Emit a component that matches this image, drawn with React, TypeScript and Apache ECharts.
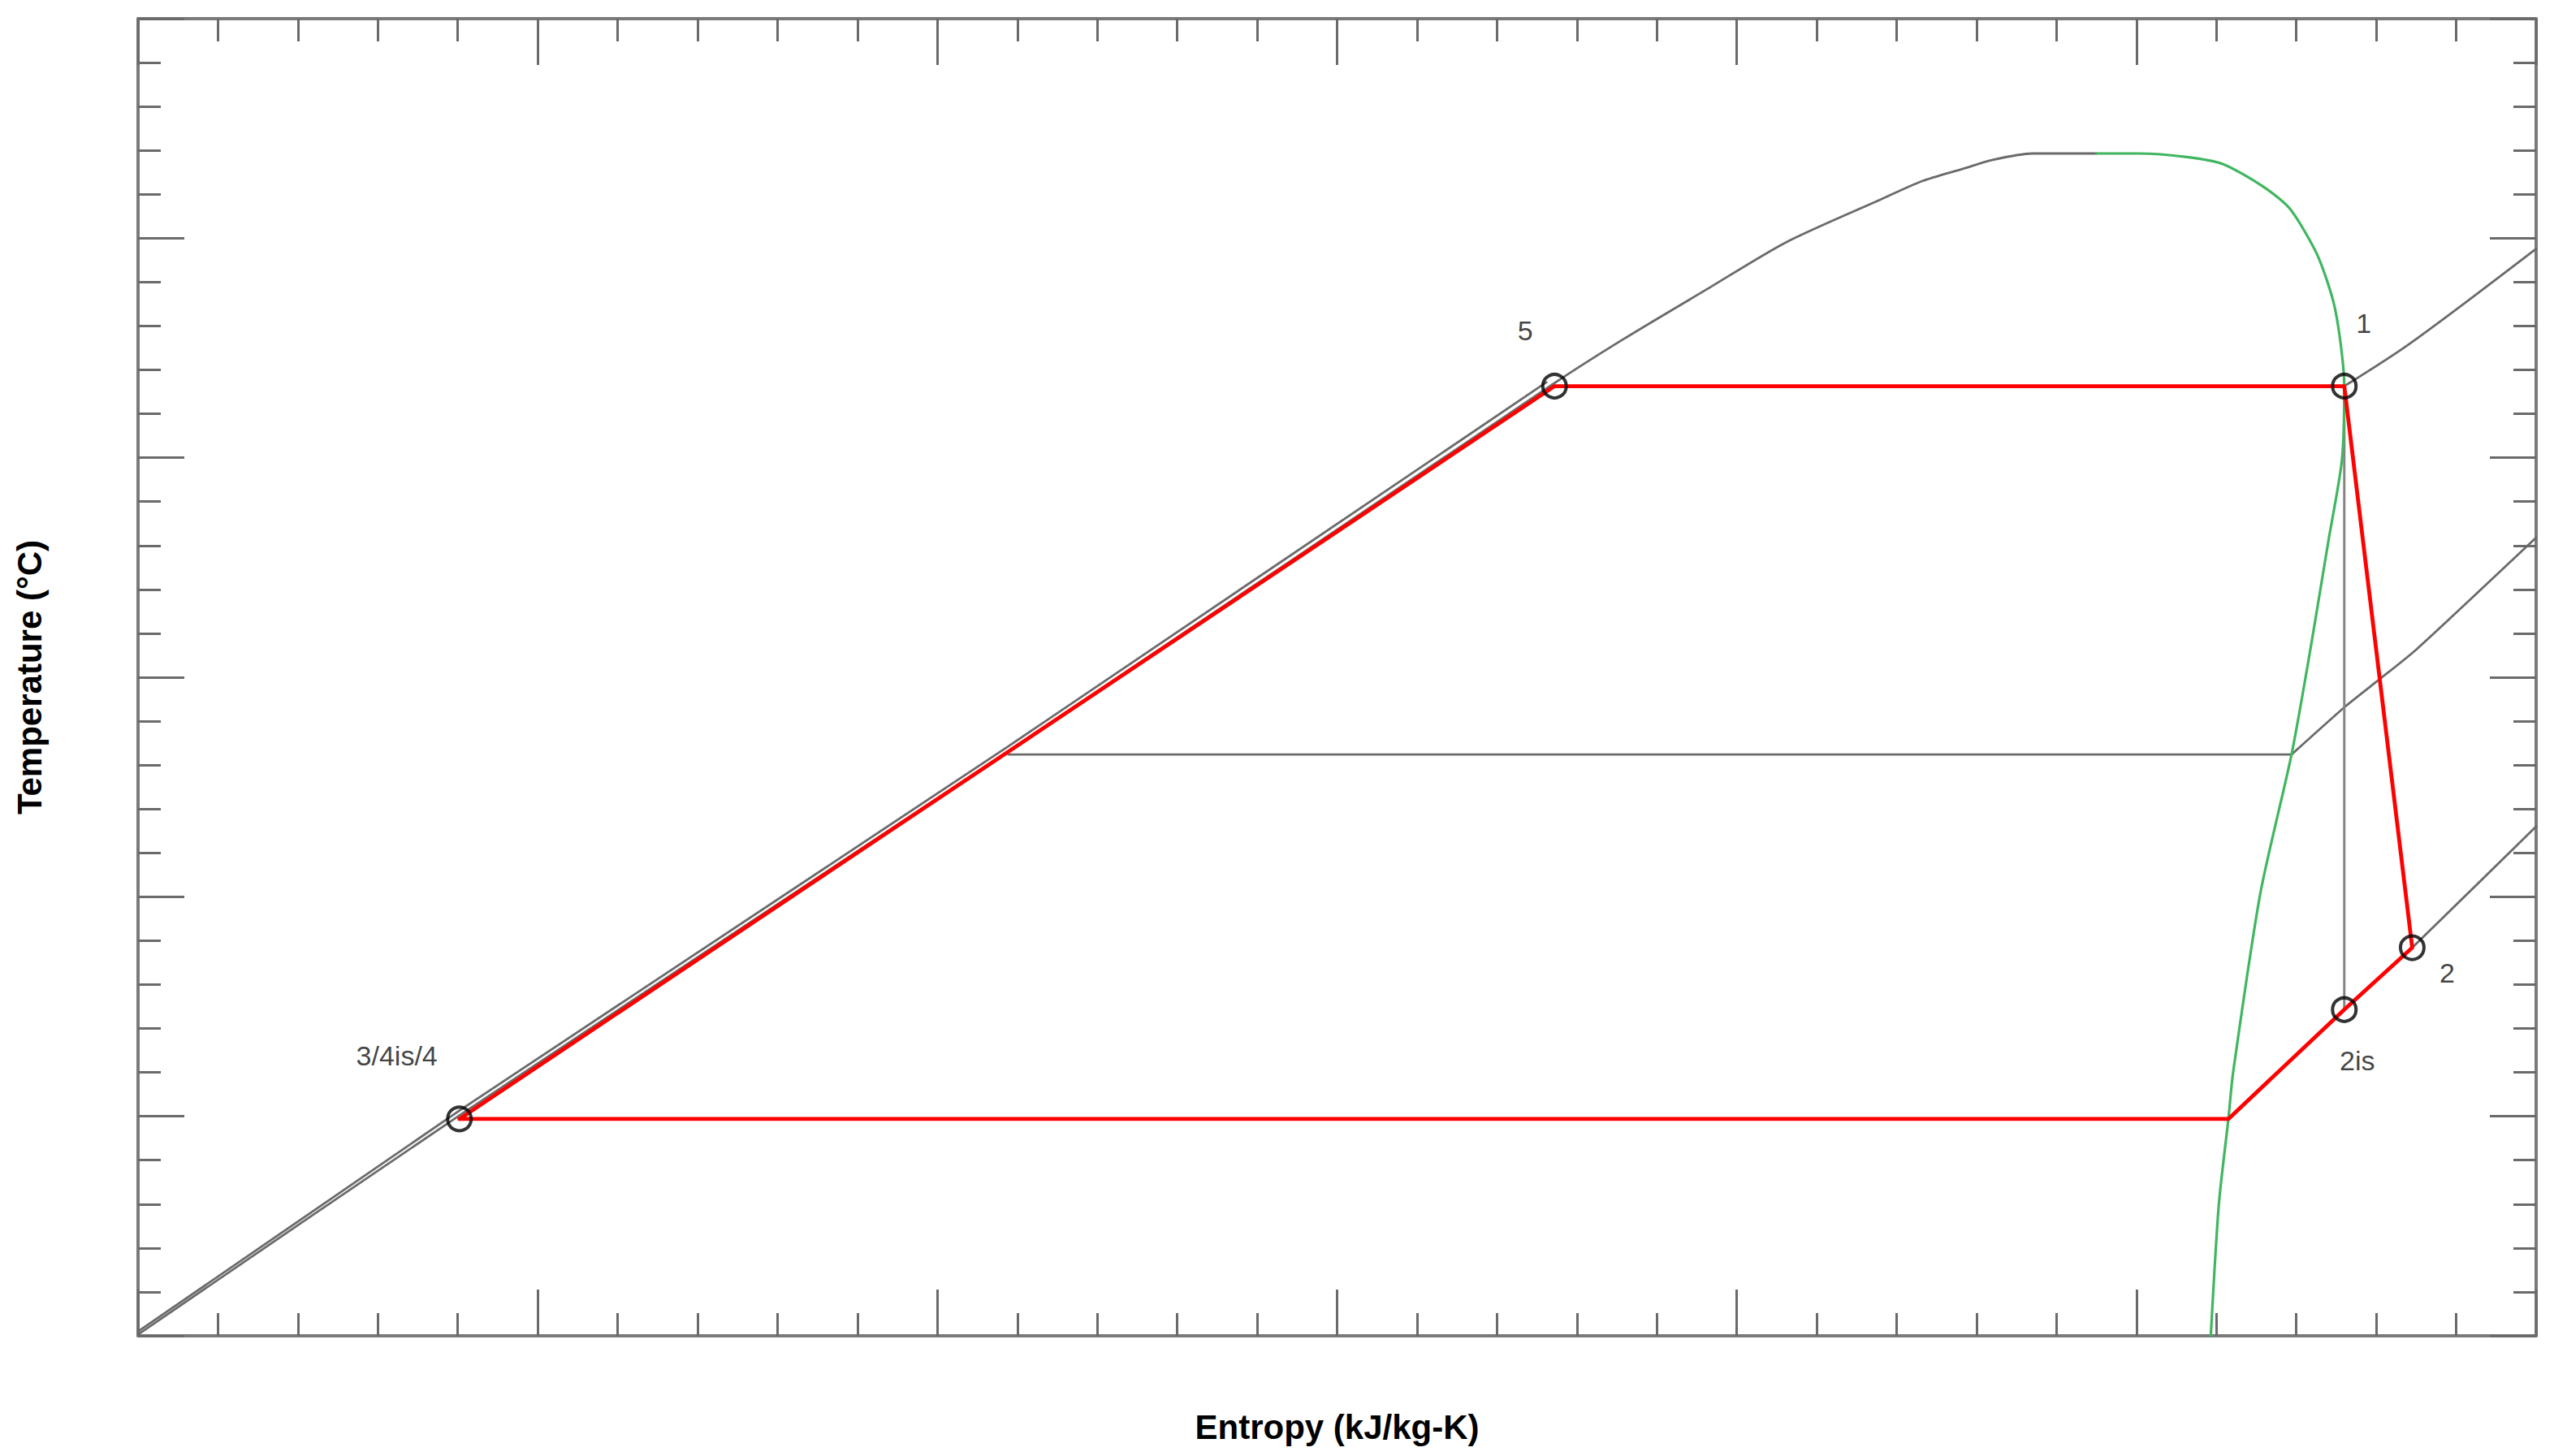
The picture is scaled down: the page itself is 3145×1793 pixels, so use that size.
import React, { useEffect, useRef } from "react";
import * as echarts from "echarts";

// ---- data (entropy s, temperature T in plot units) ----
// saturated liquid line + liquid side of the dome
const satLiqS = [0, 4.02, 10.89, 17.72, 18.59, 19.61, 20.62, 21.81, 22.32, 22.83, 23.19, 23.7, 24.5];
const satLiqT = [0.03, 5.02, 13.32, 21.7, 22.71, 23.82, 24.91, 25.89, 26.3, 26.58, 26.78, 26.93, 26.93];

// compressed-liquid isobar (nearly on the saturated liquid line)
const liqIsoS = [0, 4.02, 10.89, 17.62];
const liqIsoT = [0.1, 5.13, 13.43, 21.72];

// saturated vapour line (green)
const satVapS = [24.5, 25.02, 25.63, 26.08, 26.59, 26.92, 27.26, 27.46, 27.55, 27.6, 27.57, 27.4, 27.18, 26.94, 26.55, 26.21, 26.15, 26.03, 25.93];
const satVapT = [26.93, 26.93, 26.85, 26.69, 26.17, 25.67, 24.63, 23.58, 22.66, 21.63, 19.94, 18.09, 15.68, 13.24, 10.08, 6.01, 4.94, 2.98, 0];

// intermediate isobar: two-phase (horizontal) part and superheated part
const midTwoPhaseS = [10.89, 26.94];
const midTwoPhaseT = [13.24, 13.24];
const midSuperS = [26.94, 27.61, 28.01, 28.5, 30];
const midSuperT = [13.24, 14.33, 14.91, 15.63, 18.18];

// high-pressure isobar (superheated part)
const highS = [27.6, 28.42, 30];
const highT = [21.63, 22.6, 24.76];

// low-pressure isobar (superheated part)
const lowS = [26.15, 27.6, 28.45, 30];
const lowT = [4.94, 7.43, 8.84, 11.6];

// isentropic compression 1 -> 2is
const isenS = [27.6, 27.6];
const isenT = [21.63, 7.43];

// cycle (red)
const cycleS = [4.02, 26.15, 27.6, 28.45, 27.6, 17.72, 4.02];
const cycleT = [4.94, 4.94, 7.43, 8.84, 21.63, 21.63, 4.94];

// state points
const stateNames = ["3/4is/4", "5", "1", "2", "2is"];
const stateS = [4.02, 17.72, 27.6, 28.45, 27.6];
const stateT = [4.94, 21.63, 21.63, 8.84, 7.43];

// label placement (pixels, relative to the point)
const labelOffsets: Record<string, [number, number]> = {
  "3/4is/4": [-77, -78],
  "5": [-36, -69],
  "1": [24, -78],
  "2": [43, 31],
  "2is": [16, 63],
};

const zip = (xs: number[], ys: number[]) => xs.map((x, i) => [x, ys[i]]);

const FONT = "'Liberation Sans', Arial, sans-serif";
const GRAY = "#6a6a6a";

function makeAxis(position: string, name: string, nameGap: number) {
  return {
    type: "value",
    min: 0,
    max: 30,
    interval: 5,
    position,
    name,
    nameLocation: "middle",
    nameGap,
    nameTextStyle: { fontFamily: FONT, fontWeight: "bold", fontSize: 42, color: "#000" },
    axisLine: { show: true, onZero: false, lineStyle: { color: "#7a7a7a", width: 4 } },
    axisTick: { show: true, inside: true, length: 57, lineStyle: { color: "#6a6a6a", width: 3 } },
    minorTick: { show: true, splitNumber: 5, length: 28, lineStyle: { color: "#6a6a6a", width: 3 } },
    axisLabel: { show: false },
    splitLine: { show: false },
    minorSplitLine: { show: false },
  };
}

function lineSeries(data: number[][], color: string, width: number, z: number, smooth: number | boolean = false) {
  return {
    type: "line",
    data,
    showSymbol: false,
    symbol: "none",
    silent: true,
    smooth,
    z,
    lineStyle: { color, width, join: "round", cap: "round" },
  };
}

export default function App() {
  const ref = useRef<HTMLDivElement>(null);

  useEffect(() => {
    if (!ref.current) return;
    const chart = echarts.init(ref.current, undefined, { renderer: "svg" });
    const option = {
      animation: false,
      backgroundColor: "#ffffff",
      grid: { left: 170, right: 22, top: 23, bottom: 148, containLabel: false },
      xAxis: [makeAxis("bottom", "Entropy (kJ/kg-K)", 91), makeAxis("top", "", 0)],
      yAxis: [makeAxis("left", "Temperature (°C)", 113), makeAxis("right", "", 0)],
      series: [
        lineSeries(zip(satLiqS, satLiqT), GRAY, 2.8, 2, 0.25),
        lineSeries(zip(liqIsoS, liqIsoT), GRAY, 2.8, 2),
        lineSeries(zip(midTwoPhaseS, midTwoPhaseT), GRAY, 2.8, 2),
        lineSeries(zip(midSuperS, midSuperT), GRAY, 2.8, 2, 0.2),
        lineSeries(zip(highS, highT), GRAY, 2.8, 2, 0.3),
        lineSeries(zip(lowS, lowT), GRAY, 2.8, 2),
        lineSeries(zip(isenS, isenT), "#858585", 3, 2),
        lineSeries(zip(satVapS, satVapT), "#40b660", 3.2, 3, 0.25),
        lineSeries(zip(cycleS, cycleT), "#ff0000", 4.8, 4),
        {
          type: "scatter",
          z: 5,
          silent: true,
          symbol: "circle",
          symbolSize: 29,
          itemStyle: { color: "rgba(0,0,0,0)", borderColor: "#000", borderWidth: 4 },
          label: {
            show: true,
            position: "inside",
            formatter: "{b}",
            fontFamily: FONT,
            fontSize: 34,
            color: "#111",
            align: "center",
            verticalAlign: "middle",
          },
          data: stateNames.map((n, i) => ({
            name: n,
            value: [stateS[i], stateT[i]],
            label: { offset: labelOffsets[n] },
          })),
        },
      ],
    };
    chart.setOption(option as any);
    return () => chart.dispose();
  }, []);

  return (
    <div
      ref={ref}
      style={{ position: "absolute", left: 0, top: 0, width: 3145, height: 1793, background: "#fff" }}
    />
  );
}
